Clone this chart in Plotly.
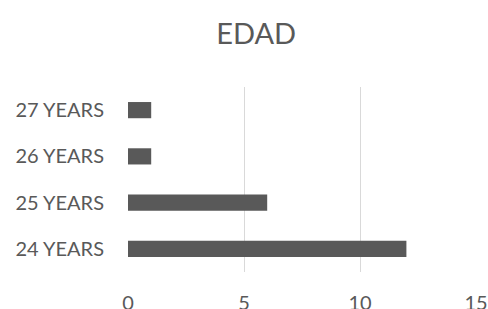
import plotly.graph_objects as go

categories = ["24 YEARS", "25 YEARS", "26 YEARS", "27 YEARS"]
values = [12, 6, 1, 1]
x_ticks = [0, 5, 10, 15]

fig = go.Figure(go.Bar(
    x=values, y=categories, orientation="h",
    marker=dict(color="#595959", line=dict(width=0)),
))

fig.update_layout(
    width=488, height=309,
    margin=dict(l=128, r=12, t=87, b=37, autoexpand=False),
    paper_bgcolor="white", plot_bgcolor="white",
    bargap=0.65,
    showlegend=False,
    font=dict(family="Lato", color="#595959", size=20),
    title=dict(text="EDAD", x=0.525, xanchor="center", y=0.89, yanchor="middle",
               font=dict(family="Lato", size=29, color="#595959")),
    xaxis=dict(range=[0, 15], tickvals=x_ticks, showgrid=True, gridcolor="#d9d9d9",
               gridwidth=1, zeroline=False, showline=False, ticks="",
               tickfont=dict(size=20), ticklabelstandoff=17, automargin=False),
    yaxis=dict(showgrid=False, zeroline=False, showline=False, ticks="",
               tickfont=dict(size=20), ticklabelstandoff=23, automargin=False,
               categoryorder="array", categoryarray=categories),
)

fig.write_html("out.html", config={"displayModeBar": False},
               post_script="document.body.style.margin='0';")
